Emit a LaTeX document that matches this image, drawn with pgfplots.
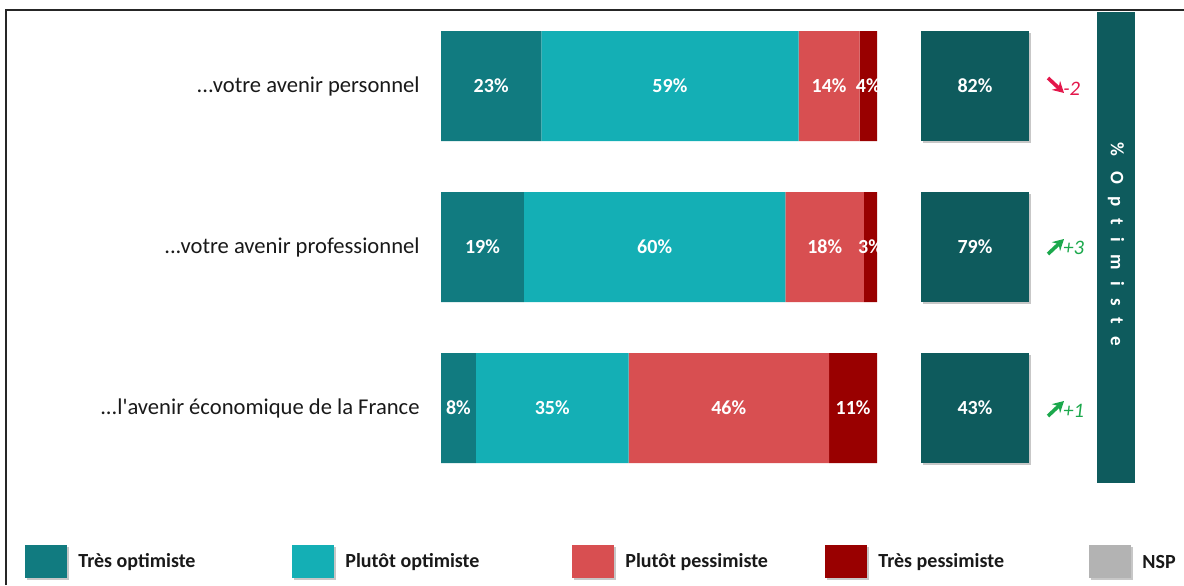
\documentclass[border=0pt]{standalone}
\usepackage{pgfplots}
\pgfplotsset{compat=1.18}
\usepackage{fontspec}
\setmainfont{Carlito}
\usetikzlibrary{shadows,arrows.meta}

\definecolor{tresopt}{HTML}{117B80}
\definecolor{plutopt}{HTML}{14AFB5}
\definecolor{plutpess}{HTML}{D84F51}
\definecolor{trespess}{HTML}{990000}
\definecolor{boxcol}{HTML}{0E5B5D}
\definecolor{nsp}{HTML}{B3B3B3}
\definecolor{downred}{HTML}{E3174B}
\definecolor{upgreen}{HTML}{1BA84C}

\tikzset{sh/.style={drop shadow={shadow xshift=1.2pt, shadow yshift=-1.2pt, opacity=0.22, fill=black}}}

\begin{document}
\begin{tikzpicture}
\begin{axis}[
    at={(0,0)}, anchor=north west,
    scale only axis, width=592pt, height=292.5pt,
    xmin=-101.15, xmax=170.41,
    ymin=0, ymax=585, y dir=reverse,
    hide axis, clip=false,
    xbar stacked, bar width=110,
    point meta=rawx,
    nodes near coords={\pgfmathprintnumber[assume math mode=true]{\pgfplotspointmeta}\%},
    every node near coord/.append style={anchor=center, text=white,
        font=\bfseries\fontsize{10}{12}\selectfont},
]
% y positions of the three questions, in pixels from the top
\addplot[fill=tresopt, draw=none] coordinates {(23,86) (19,247) (8,408)};
\addplot[fill=plutopt, draw=none] coordinates {(59,86) (60,247) (35,408)};
\addplot[fill=plutpess, draw=none] coordinates {(14,86) (18,247) (46,408)};
\addplot[fill=trespess, draw=none] coordinates {(4,86) (3,247) (11,408)};
\end{axis}

\begin{scope}[x=0.5pt, y=-0.5pt]
  % frame
  \draw[line width=1pt, black!85] (6,585) -- (6,10) -- (1184,10);

  % question labels
  \begin{scope}[every node/.style={anchor=east, inner sep=0pt, font=\fontsize{11.3}{13}\selectfont, text=black!90}]
    \node at (420,86) {...votre avenir personnel};
    \node at (420,247) {...votre avenir professionnel};
    \node at (420,408) {...l\textquotesingle avenir économique de la France};
  \end{scope}

  % % optimiste boxes
  \foreach \yc/\val in {86/82, 247/79, 408/43} {
    \fill[boxcol, sh] (921,\yc-55) rectangle (1029,\yc+55);
    \node[text=white, font=\bfseries\fontsize{10}{12}\selectfont] at (975,\yc) {\val\%};
  }

  % evolution
  \draw[downred, line width=1.8pt, -{Stealth[length=5.5pt,width=6pt]}] (1048,78) -- (1064,93);
  \node[anchor=west, text=downred, inner sep=0pt, font=\itshape\fontsize{10.3}{12}\selectfont] at (1063,89) {-2};
  \draw[upgreen, line width=1.8pt, -{Stealth[length=5.5pt,width=6pt]}] (1048,254) -- (1064,239);
  \node[anchor=west, text=upgreen, inner sep=0pt, font=\itshape\fontsize{10.3}{12}\selectfont] at (1063,248) {+3};
  \draw[upgreen, line width=1.8pt, -{Stealth[length=5.5pt,width=6pt]}] (1048,416) -- (1064,401);
  \node[anchor=west, text=upgreen, inner sep=0pt, font=\itshape\fontsize{10.3}{12}\selectfont] at (1063,411) {+1};

  % vertical band
  \fill[boxcol] (1097,12) rectangle (1135,483);
  \node[rotate=-90, text=white, font=\bfseries\fontsize{9.5}{11}\selectfont] at (1116,244)
    {\%\hspace{8pt}O\hspace{6pt}p\hspace{6pt}t\hspace{6pt}i\hspace{6pt}m\hspace{6pt}i\hspace{6pt}s\hspace{6pt}t\hspace{6pt}e};

  % legend
  \foreach \xs/\col/\txt in {25/tresopt/Très optimiste, 292/plutopt/Plutôt optimiste,
      572/plutpess/Plutôt pessimiste, 825/trespess/Très pessimiste, 1089/nsp/NSP} {
    \fill[\col, sh] (\xs,545) rectangle (\xs+42,578);
    \node[anchor=west, inner sep=0pt, text=black!90, font=\bfseries\fontsize{10}{12}\selectfont]
      at (\xs+53,562) {\txt};
  }
  \pgfresetboundingbox
  \useasboundingbox (0,0) rectangle (1184,585);
\end{scope}
\end{tikzpicture}
\end{document}
